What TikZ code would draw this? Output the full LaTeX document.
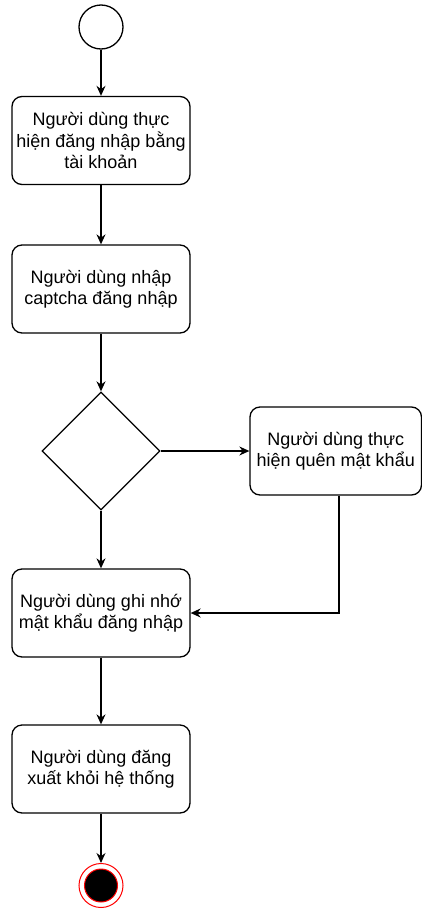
\documentclass[tikz,border=0pt]{standalone}
\usepackage{fontspec}
\setmainfont{Liberation Sans}
\usetikzlibrary{positioning,shapes.geometric,arrows.meta}
\definecolor{endred}{HTML}{FF0000}
\begin{document}
\begin{tikzpicture}[x=1pt,y=-1pt,line width=1.3pt,
  >={Stealth[length=10pt,width=9pt]},
  act/.style={draw,rectangle,rounded corners=10pt,minimum width=178pt,minimum height=88pt,
    align=center,inner sep=1pt,font=\fontsize{18}{21.5}\selectfont},
  decision/.style={draw,diamond,minimum width=118pt,minimum height=118pt,inner sep=0pt},
  startstate/.style={draw,circle,minimum size=44pt,inner sep=0pt},
  endstate/.style={draw=endred,circle,minimum size=44pt,inner sep=0pt,line width=1pt},
  endcore/.style={draw=endred,fill=black,circle,minimum size=33pt,inner sep=0pt,line width=1pt}]
\useasboundingbox (0,0) rectangle (422,910);
\node[startstate] (start) at (101,27) {};
\node[act] (login) at (101,140.5) {Người dùng thực\\hiện đăng nhập bằng\\tài khoản};
\node[act] (captcha) at (101,289) {Người dùng nhập\\captcha đăng nhập};
\node[decision] (choice) at (101,451) {};
\node[act,minimum width=171.5pt] (forgot) at (335.75,451) {Người dùng thực\\hiện quên mật khẩu};
\node[act] (remember) at (101,613) {Người dùng ghi nhớ\\mật khẩu đăng nhập};
\node[act] (logout) at (101,769) {Người dùng đăng\\xuất khỏi hệ thống};
\node[endstate] (finish) at (101,885.5) {};
\node[endcore] (finishcore) at (finish.center) {};
\draw[->] (start) -- (login);
\draw[->] (login) -- (captcha);
\draw[->] (captcha) -- (choice);
\draw[->] (choice.east) -- (forgot.west);
\draw[->] (choice.south) -- (remember.north);
\draw[->] ([xshift=3.25pt]forgot.south) |- (remember.east);
\draw[->] (remember) -- (logout);
\draw[->] (logout) -- (finish);
\end{tikzpicture}
\end{document}
